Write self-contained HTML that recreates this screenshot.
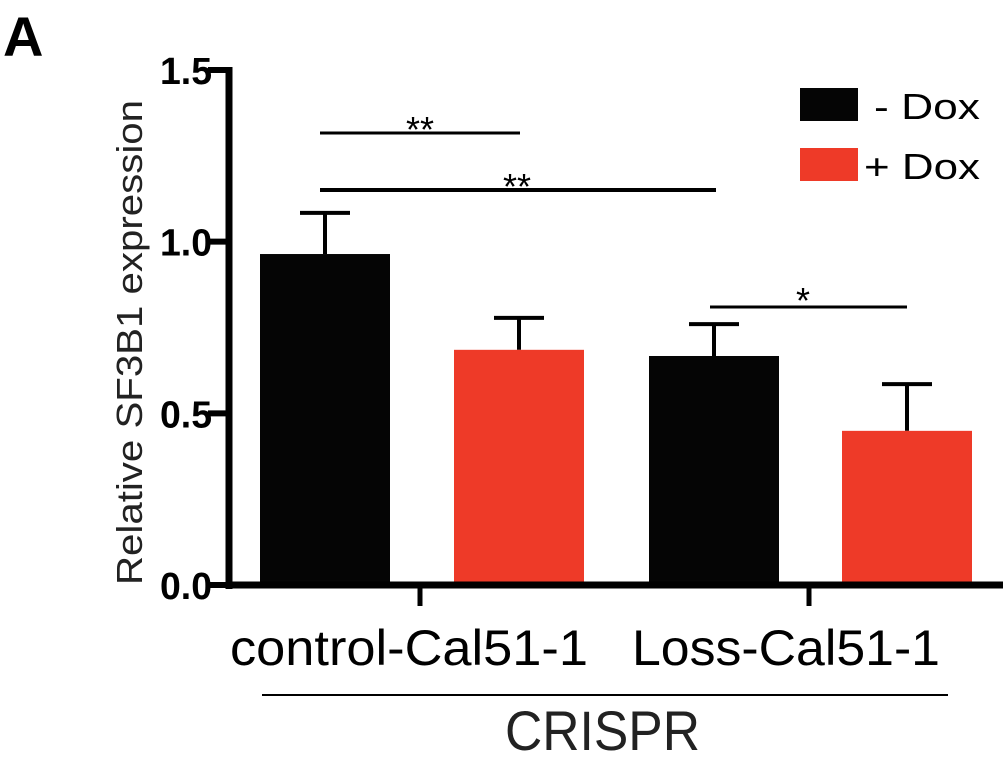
<!DOCTYPE html>
<html><head><meta charset="utf-8"><style>
body{margin:0;background:#fff;}
svg{display:block;font-family:"Liberation Sans",Arial,sans-serif;}
</style></head><body>
<svg id="chart" width="1003" height="769">
<text x="3" y="56" font-size="56" font-weight="bold">A</text>
<text transform="translate(142,585) rotate(-90)" font-size="36" fill="#222" textLength="485" lengthAdjust="spacingAndGlyphs">Relative SF3B1 expression</text>
<g id="bars"></g>
<g id="axes"></g>
<line x1="320" y1="133" x2="520" y2="133" stroke="#000" stroke-width="3"/>
<text x="420" y="142" font-size="36" text-anchor="middle">**</text>
<line x1="320" y1="190" x2="716" y2="190" stroke="#000" stroke-width="4"/>
<text x="517" y="199" font-size="36" text-anchor="middle">**</text>
<line x1="710" y1="307" x2="907" y2="307" stroke="#000" stroke-width="3"/>
<text x="803" y="313" font-size="36" text-anchor="middle">*</text>
<rect x="800" y="88" width="58" height="33" fill="#050505"/>
<text x="874" y="119" font-size="36" textLength="106" lengthAdjust="spacingAndGlyphs">- Dox</text>
<rect x="800" y="148" width="58" height="33" fill="#ee3a28"/>
<text x="864" y="179" font-size="36" textLength="116" lengthAdjust="spacingAndGlyphs">+ Dox</text>
<text x="230" y="665" font-size="50" textLength="358" lengthAdjust="spacingAndGlyphs">control-Cal51-1</text>
<text x="632" y="665" font-size="50" textLength="308" lengthAdjust="spacingAndGlyphs">Loss-Cal51-1</text>
<line x1="262" y1="695" x2="948" y2="695" stroke="#000" stroke-width="2"/>
<text x="505" y="750" font-size="56" textLength="195" lengthAdjust="spacingAndGlyphs" fill="#222">CRISPR</text>
</svg>
<script>
const values=[0.964,0.685,0.667,0.449];
const errors=[0.12,0.093,0.093,0.136];
const colors=["#050505","#ee3a28","#050505","#ee3a28"];
const barNames=["bar-control-minus-dox","bar-control-plus-dox","bar-loss-minus-dox","bar-loss-plus-dox"];
const yTicks=[0,0.5,1.0,1.5];
const yTickLabels=["0.0","0.5","1.0","1.5"];
const NS="http://www.w3.org/2000/svg";
const y0=585,yTop=70,yMax=1.5;
const y=v=>y0-(v/yMax)*(y0-yTop);
const barX=[260,454,649,842],barW=130;
const gb=document.getElementById('bars'),ga=document.getElementById('axes');
function mk(tag,attrs,parent){const e=document.createElementNS(NS,tag);for(const k in attrs)e.setAttribute(k,attrs[k]);parent.appendChild(e);return e;}
values.forEach((v,i)=>{
 const cx=barX[i]+barW/2;
 const el=mk('line',{x1:cx,y1:y(v),x2:cx,y2:y(v+errors[i]),stroke:"#000","stroke-width":4},gb);
 
 
 const cap=mk('line',{x1:cx-25,y1:y(v+errors[i]),x2:cx+25,y2:y(v+errors[i]),stroke:"#000","stroke-width":4},gb);
 
 
 const r=mk('rect',{x:barX[i],y:y(v),width:barW,height:y0-y(v),fill:colors[i]},gb);
 
 
});
const ya=mk('line',{x1:229,y1:yTop-3,x2:229,y2:y0+4,stroke:"#000","stroke-width":7},ga);


const xa=mk('line',{x1:226,y1:y0,x2:1003,y2:y0,stroke:"#000","stroke-width":7},ga);


[420,809].forEach(x=>{const t=mk('line',{x1:x,y1:y0,x2:x,y2:606,stroke:"#000","stroke-width":5},ga);
 
 });
yTicks.forEach((v,i)=>{
 const t=mk('line',{x1:208,y1:y(v),x2:229,y2:y(v),stroke:"#000","stroke-width":6},ga);
 
 
 const l=mk('text',{x:160,y:y(v)+14,"font-size":38,"font-weight":"bold",textLength:52,lengthAdjust:"spacingAndGlyphs"},ga);
 l.textContent=yTickLabels[i];
 
 
});
</script>
</body></html>
